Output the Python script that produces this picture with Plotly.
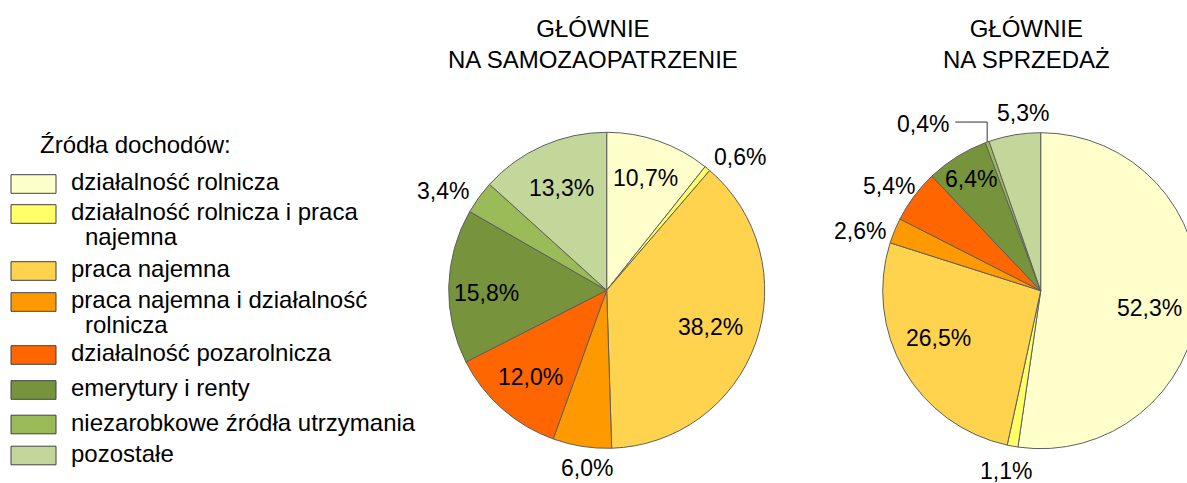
import math
import plotly.graph_objects as go

# --- data ---------------------------------------------------------------
categories = [
    "działalność rolnicza",
    "działalność rolnicza i praca najemna",
    "praca najemna",
    "praca najemna i działalność rolnicza",
    "działalność pozarolnicza",
    "emerytury i renty",
    "niezarobkowe źródła utrzymania",
    "pozostałe",
]
legend_lines = [
    ["działalność rolnicza"],
    ["działalność rolnicza i praca", "najemna"],
    ["praca najemna"],
    ["praca najemna i działalność", "rolnicza"],
    ["działalność pozarolnicza"],
    ["emerytury i renty"],
    ["niezarobkowe źródła utrzymania"],
    ["pozostałe"],
]
samozaopatrzenie = [10.7, 0.6, 38.2, 6.0, 12.0, 15.8, 3.4, 13.3]
sprzedaz = [52.3, 1.1, 26.5, 2.6, 5.4, 6.4, 0.4, 5.3]

title_left = "GŁÓWNIE<br>NA SAMOZAOPATRZENIE"
title_right = "GŁÓWNIE<br>NA SPRZEDAŻ"
legend_title = "Źródła dochodów:"

# --- styling --------------------------------------------------------------
colors = ["#FFFFCC", "#FFFF66", "#FFD34D", "#FF9900",
          "#FF6600", "#77933C", "#9BBB59", "#C4D79B"]
place_left = ["in", "out", "in", "out", "in", "in", "out", "in"]
place_right = ["in", "out", "in", "out", "out", "in", "leader", "out"]
# hand-tuned label offsets (px) keeping labels clear of neighbours
nudge_left = {1: (13, 12), 3: (8, 2), 5: (-10, 5), 6: (-9, 13)}
nudge_right = {0: (-2, 9), 1: (-3, 5), 2: (-6, -8), 3: (-3, 13),
               4: (1, 9), 7: (12, -2)}

FONT = "Liberation Sans, Arial, sans-serif"
FS = 23          # slice labels
FS_TEXT = 24     # titles and legend
W, H = 1200, 483
R = 158
LEFT_C = (606.7, 290.3)
RIGHT_C = (1040.7, 290.7)
SLICE_LINE = "#5f5f5f"


def px(x):
    return x / W


def py(y):
    return 1 - y / H


def fmt(v):
    return f"{v:.1f}".replace(".", ",") + "%"


def text_width(s):
    w = {",": 0.278, "%": 0.889}
    return sum(w.get(ch, 0.556) for ch in s) * FS


fig = go.Figure()
annotations = []
shapes = []


def add_pie(values, center, places, nudges, title):
    cx, cy = center
    fig.add_trace(go.Pie(
        values=values,
        labels=categories,
        marker=dict(colors=colors, line=dict(color=SLICE_LINE, width=1)),
        sort=False,
        direction="clockwise",
        rotation=0,
        textinfo="none",
        hovertemplate="%{label}: %{value:.1f}%<extra></extra>",
        showlegend=False,
        domain=dict(x=[px(cx - R), px(cx + R)], y=[py(cy + R), py(cy - R)]),
    ))
    total = sum(values)
    cum = 0.0
    for i, (v, place) in enumerate(zip(values, places)):
        a0 = cum / total * 360
        cum += v
        a1 = cum / total * 360
        mid = math.radians((a0 + a1) / 2)
        s, c = math.sin(mid), math.cos(mid)
        label = fmt(v)
        nx, ny = nudges.get(i, (0, 0))
        if place == "in":
            half = math.radians((a1 - a0) / 2)
            if half >= math.pi / 2:
                frac = 0.70
            else:
                frac = max(0.70, 1 - math.sin(half) / (1 + math.sin(half)))
            rho = R * frac
            lx, ly = cx + rho * s + nx, cy - rho * c + ny
            annotations.append(dict(x=px(lx), y=py(ly), text=label,
                                    showarrow=False, xanchor="center",
                                    yanchor="middle",
                                    font=dict(size=FS)))
        elif place == "out":
            rho = R + 6 + abs(s) * text_width(label) / 2 + abs(c) * 10
            lx, ly = cx + rho * s + nx, cy - rho * c + ny
            annotations.append(dict(x=px(lx), y=py(ly), text=label,
                                    showarrow=False, xanchor="center",
                                    yanchor="middle",
                                    font=dict(size=FS)))
        else:
            # elbow leader line from the slice edge up and to the left
            ex, ey = cx + R * s, cy - R * c
            ky = ey - 20
            kx = ex - 32
            shapes.append(dict(
                type="path", xref="paper", yref="paper",
                path=(f"M {px(ex)} {py(ey)} L {px(ex)} {py(ky)} "
                      f"L {px(kx)} {py(ky)}"),
                line=dict(color="#333333", width=1),
            ))
            annotations.append(dict(x=px(kx - 4), y=py(ky + 2), text=label,
                                    showarrow=False, xanchor="right",
                                    yanchor="middle",
                                    font=dict(size=FS)))
    annotations.append(dict(x=px(cx - 14), y=py(43.5), text=title,
                            showarrow=False, xanchor="center",
                            yanchor="middle", font=dict(size=FS_TEXT)))


add_pie(samozaopatrzenie, LEFT_C, place_left, nudge_left, title_left)
add_pie(sprzedaz, RIGHT_C, place_right, nudge_right, title_right)

# --- legend ---------------------------------------------------------------
legend_rows = [181.5, 211.5, 268.5, 299.5, 352.5, 387.5, 422.0, 453.0]
annotations.append(dict(x=px(38), y=py(144.7), text=legend_title,
                        showarrow=False, xanchor="left", yanchor="middle",
                        font=dict(size=FS_TEXT)))
for color, lines, ty in zip(colors, legend_lines, legend_rows):
    by = ty + 2.5
    shapes.append(dict(type="rect", xref="paper", yref="paper",
                       x0=px(11), x1=px(56), y0=py(by + 9.3), y1=py(by - 9.3),
                       fillcolor=color, line=dict(color="#404040", width=1)))
    for k, line in enumerate(lines):
        annotations.append(dict(x=px(69 if k == 0 else 83), y=py(ty + 25 * k),
                                text=line, showarrow=False,
                                xanchor="left", yanchor="middle",
                                font=dict(size=FS_TEXT)))

fig.update_layout(
    width=W, height=H,
    margin=dict(l=0, r=0, t=0, b=0),
    paper_bgcolor="white",
    plot_bgcolor="white",
    font=dict(family=FONT, size=FS, color="#000000"),
    annotations=annotations,
    shapes=shapes,
    showlegend=False,
)

fig.write_html(
    "out.html",
    post_script=("document.documentElement.style.overflow='hidden';"
                 "document.body.style.overflow='hidden';"
                 "document.body.style.margin='0';"),
)
